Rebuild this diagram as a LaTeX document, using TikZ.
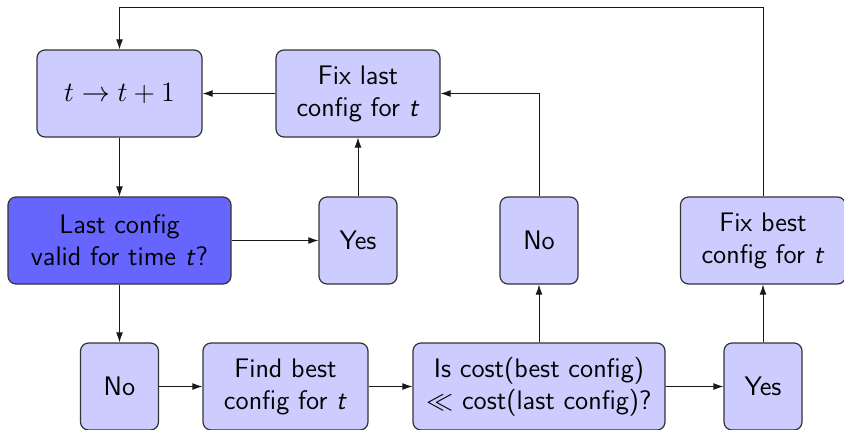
\documentclass[tikz,border=0pt]{standalone}
\usepackage{fix-cm}
\usetikzlibrary{arrows.meta}

\begin{document}
\begin{tikzpicture}
    [
      x=0.5pt, y=-0.5pt,
      every node/.style={font=\sffamily\fontsize{13.4}{16}\selectfont},
      box/.style={draw=black!80, line width=0.6pt, fill=blue!20, rounded corners=4pt,
        align=center, minimum height=43.5pt, inner sep=2pt},
      start/.style={box, fill=blue!60},
      flow/.style={-{Latex[length=5pt,width=3.4pt]}, black!90},
    ]

    \useasboundingbox (0,0) rectangle (844,429);

    % top row
    \node [box, minimum width=82.5pt] (inc) at (119.5,93.5) {\fontsize{14}{16}\selectfont$t \rightarrow t+1$};
    \node [box, minimum width=82pt] (fixlast) at (358,93.5) {Fix last\\config for \textit{t}};

    % middle row
    \node [start, minimum width=111.5pt] (valid) at (119.5,240.5) {Last config\\valid for time \textit{t}?};
    \node [box, minimum width=39pt] (yes1) at (358,240.5) {Yes};
    \node [box, minimum width=39pt] (no2) at (539,240.5) {No};
    \node [box, minimum width=82.5pt] (fixbest) at (763,240.5) {Fix best\\config for \textit{t}};

    % bottom row
    \node [box, minimum width=39pt] (no1) at (119.5,386.5) {No};
    \node [box, minimum width=82.5pt] (find) at (285.5,386.5) {Find best\\config for \textit{t}};
    \node [box, minimum width=126pt] (cost) at (539,386.5) {Is cost(best config)\\$\ll$ cost(last config)?};
    \node [box, minimum width=39pt] (yes2) at (763,386.5) {Yes};

    \coordinate (top) at (0,7);

    \draw [flow] (inc) -- (valid);
    \draw [flow] (valid) -- (yes1);
    \draw [flow] (yes1) -- (fixlast);
    \draw [flow] (fixlast) -- (inc);
    \draw [flow] (valid) -- (no1);
    \draw [flow] (no1) -- (find);
    \draw [flow] (find) -- (cost);
    \draw [flow] (cost) -- (no2);
    \draw [flow] (no2) |- (fixlast);
    \draw [flow] (cost) -- (yes2);
    \draw [flow] (yes2) -- (fixbest);
    \draw [flow] (fixbest.north) -- (fixbest.north |- top) -| (inc.north);
  \end{tikzpicture}
\end{document}
